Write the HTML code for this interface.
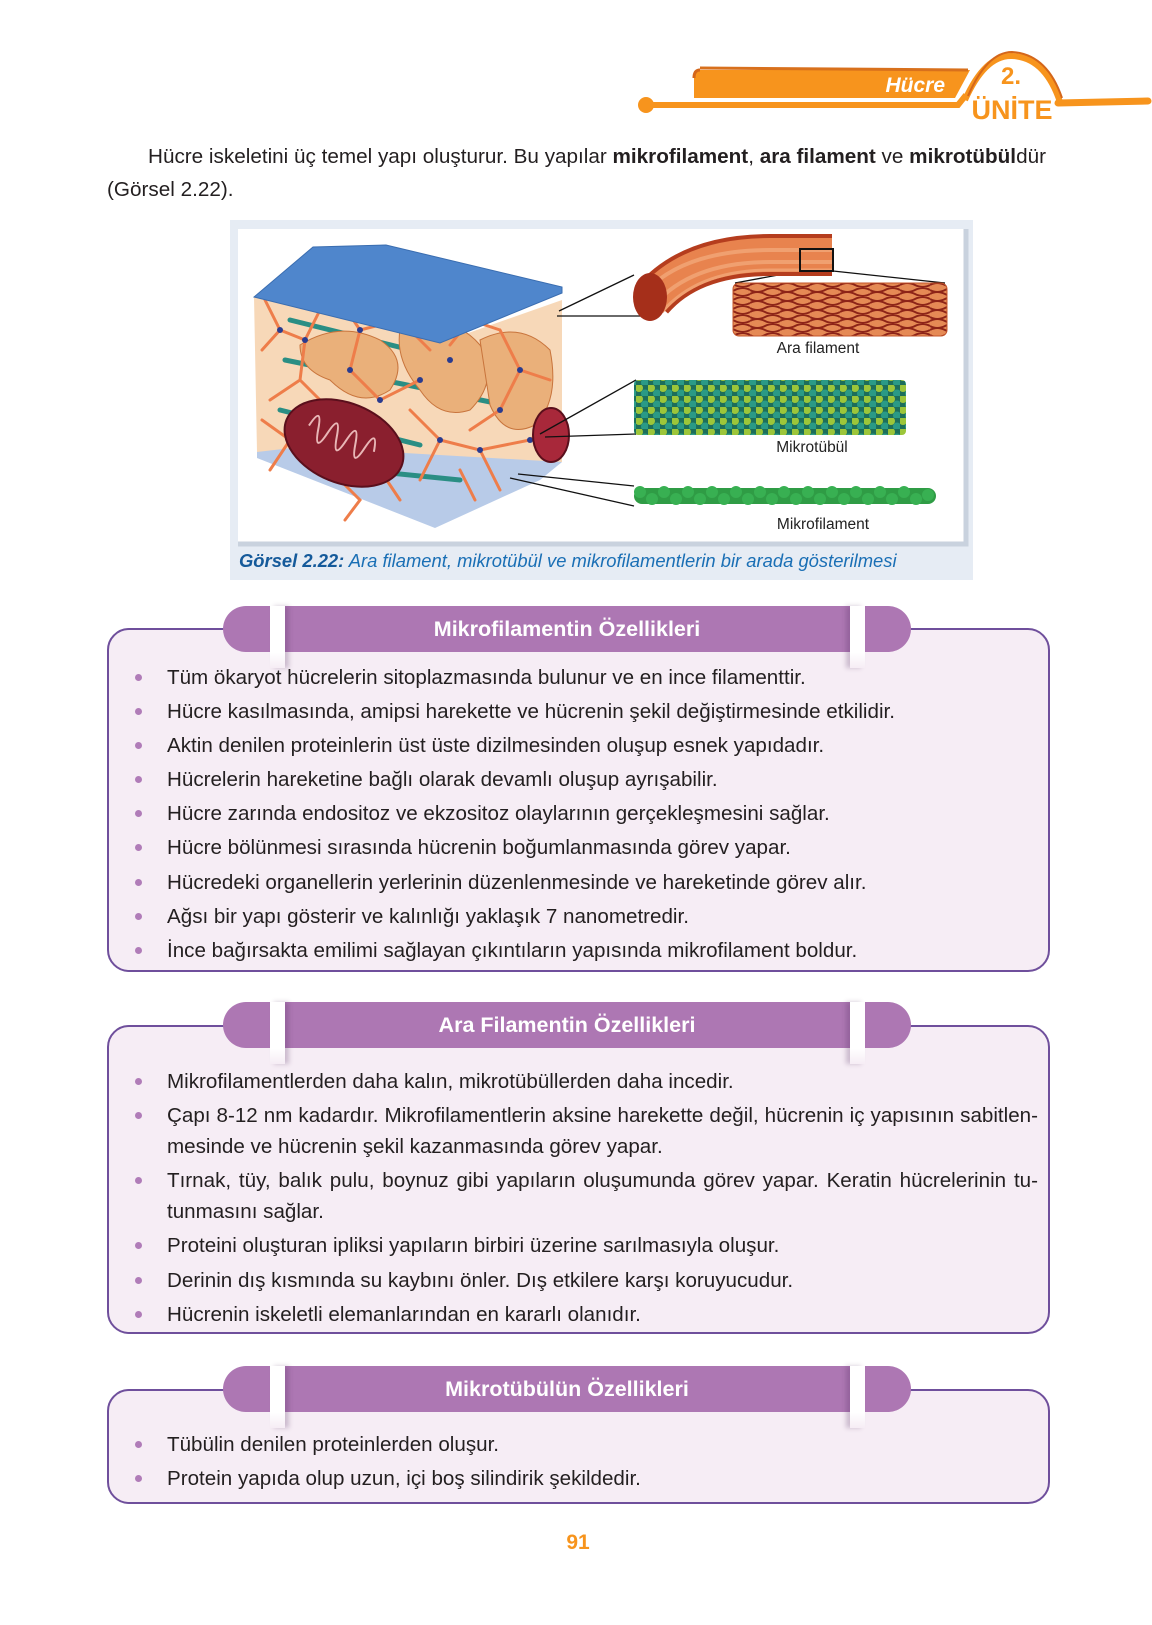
<!DOCTYPE html>
<html><head><meta charset="utf-8">
<style>
*{margin:0;padding:0;box-sizing:border-box}
body{width:1152px;height:1625px;background:#fff;position:relative;overflow:hidden;font-family:"Liberation Sans",Arial,sans-serif;color:#231f20}
.abs{position:absolute}
.p{position:absolute;font-size:20.7px;line-height:34px;white-space:nowrap}
.box{position:absolute;left:107px;width:943px;border:2px solid #6f4f9c;border-radius:22px;background:#f6edf5}
.tab{position:absolute;left:223px;width:688px;height:46px;background:#ad77b3;border-radius:23px;color:#fff;font-weight:bold;font-size:21.5px;text-align:center;line-height:46px}
.strip{position:absolute;top:0;width:15px;height:62px;background:linear-gradient(#fff,#fff 75%,rgba(255,255,255,0))}
.strip.l{left:47px;box-shadow:4px 0 5px rgba(80,40,90,.25)}
.strip.r{left:627px;box-shadow:-4px 0 5px rgba(80,40,90,.25)}
.tab span{position:relative}
.li{position:absolute;left:167px;font-size:20.6px;line-height:34px;white-space:nowrap}
.li:before{content:"";position:absolute;left:-32px;top:13px;width:7px;height:7px;border-radius:50%;background:#b07cb8}
.nb:before{display:none}
.j{width:871px;text-align:justify;text-align-last:justify}
</style></head><body>

<svg class="abs" style="left:0;top:0" width="1152" height="130">
 <path d="M700 70 Q694 70 694 78 L694 98 L955 98 L970 70 Z" fill="#f7941d"/>
 <path d="M700 70 Q694 70 694 78" stroke="#d4661a" stroke-width="3" fill="none"/>
 <path d="M700 68 L968 70" stroke="#d8701c" stroke-width="3"/>
 <circle cx="646" cy="105" r="8" fill="#f7941d"/>
 <path d="M646 105 L958 105 L966 95" stroke="#f7941d" stroke-width="6" fill="none"/>
 <path d="M965 100 Q985 55 1012 56 Q1045 57 1060 102" stroke="#f7941d" stroke-width="6" fill="none"/>
 <path d="M968 96 Q987 52 1012 52 Q1047 54 1062 98" stroke="#d4661a" stroke-width="2" fill="none"/>
 <path d="M1058 103 L1148 101" stroke="#f7941d" stroke-width="7" stroke-linecap="round"/>
 <text x="945" y="92" font-family="Liberation Sans" font-size="21" font-weight="bold" font-style="italic" fill="#fff" text-anchor="end">Hücre</text>
 <text x="1011" y="84" font-family="Liberation Sans" font-size="24" font-weight="bold" fill="#f7941d" text-anchor="middle">2.</text>
 <text x="1012" y="119" font-family="Liberation Sans" font-size="27" font-weight="bold" fill="#f7941d" text-anchor="middle">ÜNİTE</text>
</svg>

<div class="p" style="left:148px;top:140px">Hücre iskeletini üç temel yapı oluşturur. Bu yapılar <b>mikrofilament</b>, <b>ara filament</b> ve <b>mikrotübül</b>dür</div>
<div class="p" style="left:107px;top:173px">(Görsel 2.22).</div>

<svg class="abs" style="left:0;top:0" width="1152" height="600">
 <defs>
  <pattern id="mt" width="12" height="11" patternUnits="userSpaceOnUse">
   <rect width="12" height="11" fill="#1d6e5a"/>
   <circle cx="3" cy="3" r="4" fill="#9cc63a"/><circle cx="9" cy="8.5" r="4" fill="#2a9a86"/>
  </pattern>
  <pattern id="af" width="30" height="9" patternUnits="userSpaceOnUse">
   <rect width="30" height="9" fill="#e58a55"/>
   <path d="M0 2 Q7 6 15 2 T30 2 M0 6 Q7 2 15 6 T30 6" stroke="#8d2418" stroke-width="2" fill="none"/>
  </pattern>
 </defs>
 <rect x="230" y="220" width="743" height="360" fill="#e6ecf4"/>
 <rect x="238" y="229" width="728" height="315" fill="#fff"/>
 <path d="M966 229 L966 544 L238 544" stroke="#c9d2de" stroke-width="5" fill="none"/>
 <polygon points="257,452 440,470 562,462 562,300 440,343 254,297" fill="#f3c89a" opacity=".7"/>
 <polygon points="257,452 300,447 562,462 540,480 435,528 257,458" fill="#b8cbe8"/>
 <g stroke="#2a8e84" stroke-width="5" stroke-linecap="round">
  <line x1="290" y1="320" x2="500" y2="372"/><line x1="285" y1="360" x2="505" y2="405"/>
  <line x1="280" y1="410" x2="420" y2="445"/><line x1="360" y1="470" x2="460" y2="480"/>
 </g>
 <g fill="#eab07a" stroke="#c8743c" stroke-width="1">
  <path d="M300 345 Q340 320 380 340 Q410 360 390 390 Q360 410 330 380 Q300 370 300 345Z"/>
  <path d="M400 330 Q450 310 480 345 Q500 380 470 410 Q440 420 420 390 Q395 360 400 330Z"/>
  <path d="M480 340 Q520 320 550 350 Q560 400 535 425 Q505 440 490 405Z"/>
 </g>
 <g stroke="#ee7d4a" stroke-width="3" fill="none" stroke-linecap="round">
  <path d="M265 300 L280 330 L262 350 M280 330 L305 340 L320 310 M305 340 L300 380 L270 400 M300 380 L330 410"/>
  <path d="M340 300 L360 330 L400 320 L420 300 M360 330 L350 370 L380 400 L420 380 M400 320 L430 350"/>
  <path d="M450 345 L470 320 L500 330 M470 320 L480 300 M500 330 L520 370 L500 410 L470 430 M520 370 L550 380"/>
  <path d="M262 420 L290 440 L270 470 M290 440 L330 470 M410 410 L440 440 L420 480 M440 440 L480 450 L500 490 M480 450 L530 440 L555 420"/>
  <path d="M380 470 L400 500 M330 470 L360 500 L345 520 M460 470 L475 500"/>
 </g>
 <g fill="#2a3b8f">
  <circle cx="280" cy="330" r="3"/><circle cx="305" cy="340" r="3"/><circle cx="360" cy="330" r="3"/><circle cx="400" cy="320" r="3"/><circle cx="470" cy="320" r="3"/><circle cx="520" cy="370" r="3"/><circle cx="290" cy="440" r="3"/><circle cx="440" cy="440" r="3"/><circle cx="480" cy="450" r="3"/><circle cx="350" cy="370" r="3"/><circle cx="420" cy="380" r="3"/><circle cx="500" cy="410" r="3"/><circle cx="330" cy="410" r="3"/><circle cx="380" cy="400" r="3"/><circle cx="530" cy="440" r="3"/><circle cx="450" cy="360" r="3"/>
 </g>
 <ellipse cx="344" cy="443" rx="62" ry="40" transform="rotate(22 344 443)" fill="#8a1f2e" stroke="#5a0f1c" stroke-width="2"/>
 <path d="M305 440 q5 -25 10 0 q5 25 10 0 q5 -25 10 0 q5 25 10 0 q5 -25 10 0 q5 25 10 0 q5 -25 10 0" transform="rotate(22 344 443)" stroke="#e8b6b6" stroke-width="2" fill="none"/>
 <ellipse cx="551" cy="435" rx="18" ry="27" fill="#a8283a" stroke="#5a0f1c" stroke-width="2"/>
 <polygon points="254,297 313,247 386,245 562,287 562,293 440,343" fill="#4f86cc" stroke="#3a6db0" stroke-width="1"/>
 <g stroke="#111" stroke-width="1.3">
  <line x1="559" y1="311" x2="634" y2="275"/><line x1="557" y1="316" x2="642" y2="316"/>
  <line x1="800" y1="271" x2="735" y2="283"/><line x1="833" y1="271" x2="945" y2="283"/>
  <line x1="540" y1="434" x2="636" y2="380"/><line x1="545" y1="437" x2="636" y2="434"/>
  <line x1="518" y1="474" x2="634" y2="486"/><line x1="510" y1="478" x2="634" y2="506"/>
 </g>
 <g fill="none" stroke-linecap="butt">
  <path d="M652 300 Q690 255 770 255 L832 255" stroke="#b53d1e" stroke-width="42"/>
  <path d="M652 300 Q690 255 770 255 L832 255" stroke="#e8834e" stroke-width="34"/>
  <path d="M645 292 Q685 250 770 250 L832 250" stroke="#f0a070" stroke-width="4"/>
  <path d="M655 304 Q692 262 770 262 L832 262" stroke="#f0a070" stroke-width="4"/>
  <path d="M662 312 Q698 270 770 270 L832 270" stroke="#f0a070" stroke-width="3"/>
 </g>
 <ellipse cx="650" cy="297" rx="17" ry="24" fill="#a52f1a"/>
 <rect x="800" y="249" width="33" height="22" fill="none" stroke="#111" stroke-width="2"/>
 <rect x="733" y="283" width="214" height="53" fill="url(#af)" rx="6"/>
 <rect x="733" y="283" width="214" height="53" fill="none" stroke="#c4552a" rx="6"/>
 <rect x="634" y="380" width="272" height="55" rx="4" fill="url(#mt)"/>
 <rect x="634" y="488" width="302" height="16" rx="8" fill="#2f9c45"/>
 <g fill="#38b052">
  <circle cx="640" cy="492" r="6"/><circle cx="652" cy="499" r="6"/><circle cx="664" cy="492" r="6"/><circle cx="676" cy="499" r="6"/><circle cx="688" cy="492" r="6"/><circle cx="700" cy="499" r="6"/><circle cx="712" cy="492" r="6"/><circle cx="724" cy="499" r="6"/><circle cx="736" cy="492" r="6"/><circle cx="748" cy="499" r="6"/><circle cx="760" cy="492" r="6"/><circle cx="772" cy="499" r="6"/><circle cx="784" cy="492" r="6"/><circle cx="796" cy="499" r="6"/><circle cx="808" cy="492" r="6"/><circle cx="820" cy="499" r="6"/><circle cx="832" cy="492" r="6"/><circle cx="844" cy="499" r="6"/><circle cx="856" cy="492" r="6"/><circle cx="868" cy="499" r="6"/><circle cx="880" cy="492" r="6"/><circle cx="892" cy="499" r="6"/><circle cx="904" cy="492" r="6"/><circle cx="916" cy="499" r="6"/><circle cx="928" cy="495" r="6"/>
 </g>
 <g font-family="Liberation Sans" font-size="15.5" fill="#222" text-anchor="middle">
  <text x="818" y="353">Ara filament</text>
  <text x="812" y="452">Mikrotübül</text>
  <text x="823" y="529">Mikrofilament</text>
 </g>
 <text x="239" y="567" font-family="Liberation Sans" font-size="18.4" font-style="italic" fill="#1a6fb5"><tspan font-weight="bold" fill="#155a9a">Görsel 2.22:</tspan> Ara filament, mikrotübül ve mikrofilamentlerin bir arada gösterilmesi</text>
</svg>

<div class="box" style="top:628px;height:344px"></div>
<div class="tab" style="top:606px"><div class="strip l"></div><div class="strip r"></div><span>Mikrofilamentin Özellikleri</span></div>
<div class="li" style="top:661px">Tüm ökaryot hücrelerin sitoplazmasında bulunur ve en ince filamenttir.</div>
<div class="li" style="top:695px">Hücre kasılmasında, amipsi harekette ve hücrenin şekil değiştirmesinde etkilidir.</div>
<div class="li" style="top:729px">Aktin denilen proteinlerin üst üste dizilmesinden oluşup esnek yapıdadır.</div>
<div class="li" style="top:763px">Hücrelerin hareketine bağlı olarak devamlı oluşup ayrışabilir.</div>
<div class="li" style="top:797px">Hücre zarında endositoz ve ekzositoz olaylarının gerçekleşmesini sağlar.</div>
<div class="li" style="top:831px">Hücre bölünmesi sırasında hücrenin boğumlanmasında görev yapar.</div>
<div class="li" style="top:866px">Hücredeki organellerin yerlerinin düzenlenmesinde ve hareketinde görev alır.</div>
<div class="li" style="top:900px">Ağsı bir yapı gösterir ve kalınlığı yaklaşık 7 nanometredir.</div>
<div class="li" style="top:934px">İnce bağırsakta emilimi sağlayan çıkıntıların yapısında mikrofilament boldur.</div>

<div class="box" style="top:1025px;height:309px"></div>
<div class="tab" style="top:1002px"><div class="strip l"></div><div class="strip r"></div><span>Ara Filamentin Özellikleri</span></div>
<div class="li" style="top:1065px">Mikrofilamentlerden daha kalın, mikrotübüllerden daha incedir.</div>
<div class="li j" style="top:1099px">Çapı 8-12 nm kadardır. Mikrofilamentlerin aksine harekette değil, hücrenin iç yapısının sabitlen-</div>
<div class="li nb" style="top:1130px">mesinde ve hücrenin şekil kazanmasında görev yapar.</div>
<div class="li j" style="top:1164px">Tırnak, tüy, balık pulu, boynuz gibi yapıların oluşumunda görev yapar. Keratin hücrelerinin tu-</div>
<div class="li nb" style="top:1195px">tunmasını sağlar.</div>
<div class="li" style="top:1229px">Proteini oluşturan ipliksi yapıların birbiri üzerine sarılmasıyla oluşur.</div>
<div class="li" style="top:1264px">Derinin dış kısmında su kaybını önler. Dış etkilere karşı koruyucudur.</div>
<div class="li" style="top:1298px">Hücrenin iskeletli elemanlarından en kararlı olanıdır.</div>

<div class="box" style="top:1389px;height:115px"></div>
<div class="tab" style="top:1366px"><div class="strip l"></div><div class="strip r"></div><span>Mikrotübülün Özellikleri</span></div>
<div class="li" style="top:1428px">Tübülin denilen proteinlerden oluşur.</div>
<div class="li" style="top:1462px">Protein yapıda olup uzun, içi boş silindirik şekildedir.</div>

<div class="abs" style="left:548px;top:1531px;width:60px;text-align:center;font-size:21px;font-weight:bold;color:#f7941d">91</div>
</body></html>
